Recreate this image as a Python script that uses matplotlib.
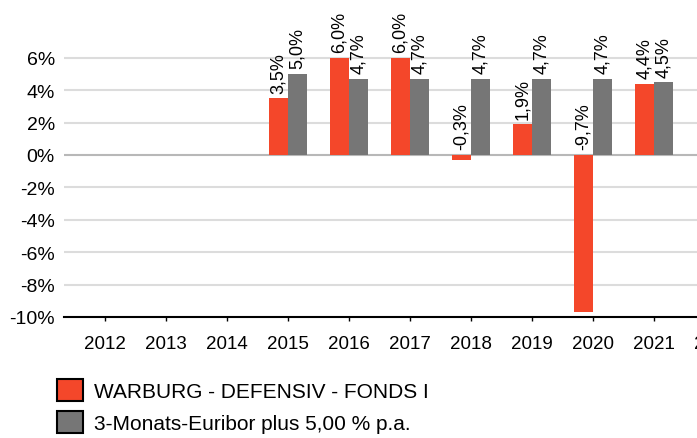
import matplotlib
matplotlib.use("Agg")
import matplotlib.pyplot as plt
from matplotlib.patches import Patch

# data
axis_years = [2012, 2013, 2014, 2015, 2016, 2017, 2018, 2019, 2020, 2021, 2022]
bar_years = [2015, 2016, 2017, 2018, 2019, 2020, 2021]
fund_values = [3.5, 6.0, 6.0, -0.3, 1.9, -9.7, 4.4]
bench_values = [5.0, 4.7, 4.7, 4.7, 4.7, 4.7, 4.5]
fund_name = 'WARBURG - DEFENSIV - FONDS I'
bench_name = '3-Monats-Euribor plus 5,00 % p.a.'
y_ticks = [-10, -8, -6, -4, -2, 0, 2, 4, 6]

red = '#f4472a'
grey = '#767676'

plt.rcParams['font.family'] = ['Liberation Sans', 'DejaVu Sans']

fig = plt.figure(figsize=(6.97, 4.39), dpi=100)
W, H = 697, 439
x_lo, x_hi = 2011.33, 2022.5
px_per_year = 61
left_px, bottom_px, top_px = 64, 318, 34.5
width_px = (x_hi - x_lo) * px_per_year
ax = fig.add_axes([left_px / W, 1 - bottom_px / H, width_px / W, (bottom_px - top_px) / H])

bar_w = 0.317


def pct(v):
    return f'{v:.1f}%'.replace('.', ',')


for years, values, color, shift in [(bar_years, fund_values, red, -bar_w / 2),
                                    (bar_years, bench_values, grey, bar_w / 2)]:
    xs = [y + shift for y in years]
    ax.bar(xs, values, width=bar_w, color=color, zorder=3)
    for x, v in zip(xs, values):
        ax.annotate(pct(v), (x, max(v, 0)), xytext=(0, 4), textcoords='offset points',
                    rotation=90, ha='center', va='bottom', fontsize=13, zorder=4)

ax.set_xlim(x_lo, x_hi)
ax.set_ylim(-10, 7.5)
ax.set_yticks(y_ticks)
ax.set_yticklabels([f'{t}%' for t in y_ticks], fontsize=14)
ax.set_xticks(axis_years)
ax.set_xticklabels([str(y) for y in axis_years], fontsize=13.5)
ax.tick_params(axis='y', length=0, pad=6.5)
ax.tick_params(axis='x', length=3, width=1, pad=10, color='black')

for t in y_ticks[1:]:
    ax.axhline(t, color='#b8b8b8' if t == 0 else '#dcdcdc', lw=1.5, zorder=1)

for side in ['left', 'right', 'top']:
    ax.spines[side].set_visible(False)
ax.spines['bottom'].set_linewidth(1.5)
ax.spines['bottom'].set_zorder(5)

handles = [Patch(facecolor=red, edgecolor='black', linewidth=1.5),
           Patch(facecolor=grey, edgecolor='black', linewidth=1.5)]
fig.legend(handles, [fund_name, bench_name], loc='upper left',
           bbox_to_anchor=(42 / W, 1 - 365 / H), frameon=False, fontsize=15,
           handlelength=1.25, handleheight=1.25, handletextpad=0.55,
           labelspacing=0.5, borderpad=0.2)

fig.savefig('out.png', dpi=100)
